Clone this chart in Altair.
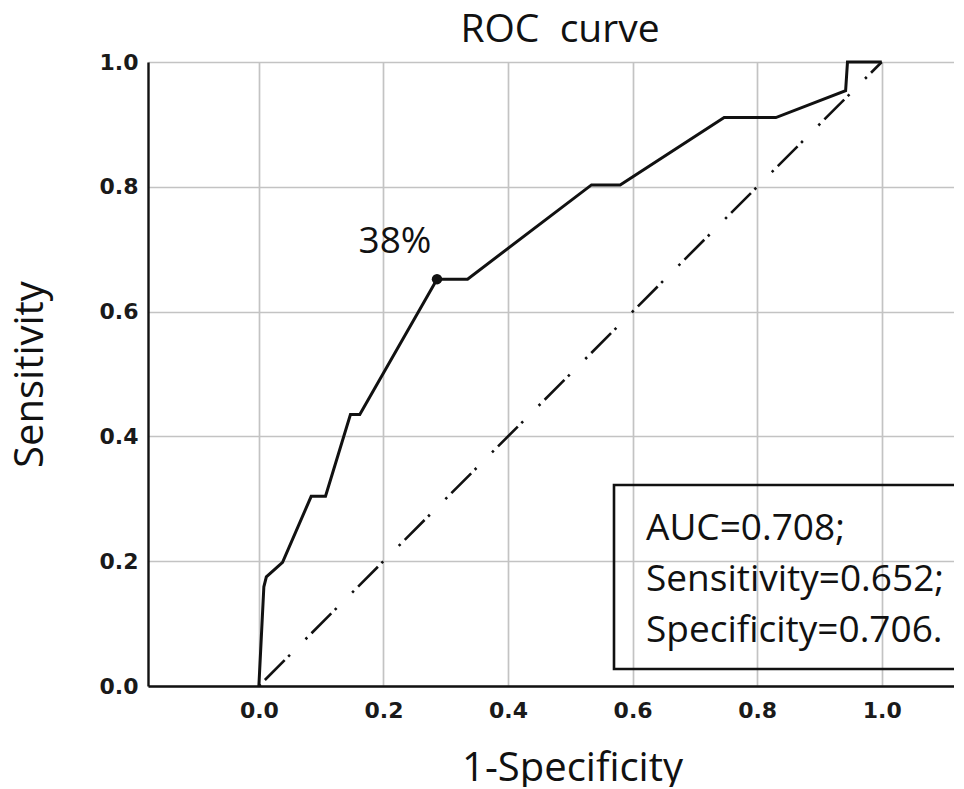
import altair as alt
import pandas as pd

# ROC curve points (1-Specificity, Sensitivity)
fpr = [0.0, 0.008, 0.012, 0.038, 0.084, 0.107, 0.147, 0.162, 0.286, 0.335,
       0.534, 0.580, 0.747, 0.830, 0.942, 0.945, 1.0]
tpr = [0.0, 0.159, 0.175, 0.198, 0.304, 0.304, 0.435, 0.435, 0.652, 0.652,
       0.803, 0.803, 0.911, 0.911, 0.954, 1.0, 1.0]

# reference diagonal
diag_x = [0.0, 1.0]
diag_y = [0.0, 1.0]

# optimal cut-off point
cut_x = [0.286]
cut_y = [0.652]
cut_label = ["38%"]

title_text = "ROC\u00a0\u00a0curve"
stats_text = "AUC=0.708;\nSensitivity=0.652;\nSpecificity=0.706."
tick_vals = [0.0, 0.2, 0.4, 0.6, 0.8, 1.0]

roc = pd.DataFrame({"x": fpr, "y": tpr, "order": list(range(len(fpr)))})
diag = pd.DataFrame({"x": diag_x, "y": diag_y})
cut = pd.DataFrame({"x": cut_x, "y": cut_y, "label": cut_label})

xscale = alt.Scale(domain=[-0.178, 1.116], nice=False, zero=False)
yscale = alt.Scale(domain=[0, 1], nice=False)

xaxis = alt.Axis(values=tick_vals, format=".1f", title="1-Specificity",
                 ticks=False, labelPadding=14, titleX=424, titleY=94,
                 titleBaseline="alphabetic", titleAlign="center")
yaxis = alt.Axis(values=tick_vals, format=".1f", title="Sensitivity",
                 ticks=False, labelPadding=10, titleX=-106, titleY=312,
                 titleBaseline="alphabetic", titleAlign="center", titleAngle=270)

line = alt.Chart(roc).mark_line(color="#111111", strokeWidth=3).encode(
    x=alt.X("x:Q", scale=xscale, axis=xaxis),
    y=alt.Y("y:Q", scale=yscale, axis=yaxis),
    order="order:Q",
)

diag_line = alt.Chart(diag).mark_line(
    color="#111111", strokeWidth=2.6, strokeDash=[2.5, 6, 28, 5, 2.5, 22]
).encode(x=alt.X("x:Q", scale=xscale), y=alt.Y("y:Q", scale=yscale))

point = alt.Chart(cut).mark_point(filled=True, color="#111111", size=110, opacity=1).encode(
    x=alt.X("x:Q", scale=xscale), y=alt.Y("y:Q", scale=yscale)
)

label = alt.Chart(cut).mark_text(
    font="Open Sans", fontSize=37, color="#111111", align="center",
    baseline="alphabetic", dx=-42, dy=-26
).encode(x=alt.X("x:Q", scale=xscale), y=alt.Y("y:Q", scale=yscale), text="label:N")

box = alt.Chart(pd.DataFrame({"a": [0]})).mark_rect(
    filled=False, stroke="#111111", strokeWidth=2.6, clip=True
).encode(x=alt.value(466), x2=alt.value(900), y=alt.value(423), y2=alt.value(607))

stats = alt.Chart(pd.DataFrame({"t": [stats_text]})).mark_text(
    font="Open Sans", fontSize=37, color="#111111", align="left",
    baseline="alphabetic", lineBreak="\n", lineHeight=51
).encode(x=alt.value(498), y=alt.value(478), text="t:N")

title = alt.Chart(pd.DataFrame({"t": [title_text]})).mark_text(
    font="Open Sans", fontSize=39, color="#111111", align="center",
    baseline="alphabetic"
).encode(x=alt.value(412), y=alt.value(-20), text="t:N")

chart = alt.layer(diag_line, line, point, label, box, stats, title).properties(
    width=806, height=624,
    padding={"left": 140, "top": 54, "right": 0, "bottom": 101},
    autosize=alt.AutoSizeParams(type="none"),
).configure_view(stroke=None).configure_axis(
    domainColor="#111111", domainWidth=2.4,
    gridColor="#c3c3c3", gridWidth=1.7,
    labelFont="DejaVu Sans", labelFontSize=22, labelFontWeight="bold",
    labelColor="#1a1a1a",
    titleFont="Open Sans", titleFontSize=40, titleFontWeight="normal",
    titleColor="#111111",
)

chart.save("out.html", embed_options={"renderer": "svg", "actions": False})
